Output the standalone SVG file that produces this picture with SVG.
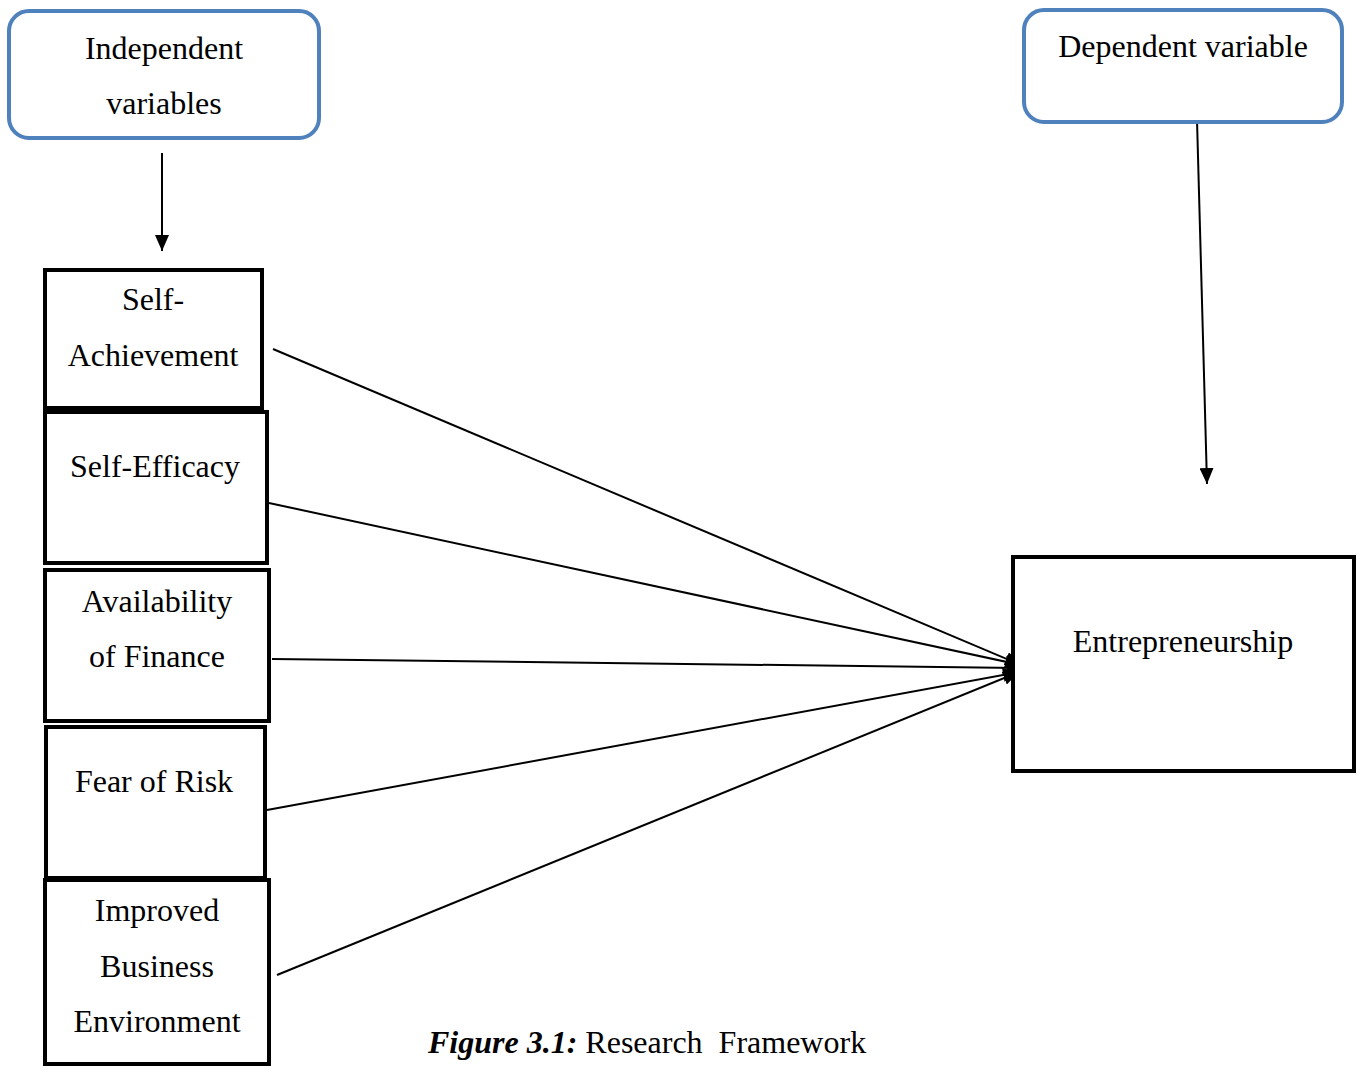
<svg xmlns="http://www.w3.org/2000/svg" width="1360" height="1066" viewBox="0 0 1360 1066">
<style>
text{font-family:"Liberation Serif","Times New Roman",serif;font-size:32px;fill:#000}
.lbl{text-anchor:middle}
.blue{fill:#fff;stroke:#4F81BD;stroke-width:4}
.box{fill:#fff;stroke:#000;stroke-width:4}
.ln{stroke:#000;stroke-width:2;fill:none;marker-end:url(#ah)}
</style>
<defs>
<marker id="ah" markerUnits="userSpaceOnUse" markerWidth="18" markerHeight="14" refX="16" refY="7" orient="auto">
<path d="M0,0 L16,7 L0,14 Z" fill="#000"/>
</marker>
</defs>
<rect width="1360" height="1066" fill="#fff"/>
<g id="connectors">
<line class="ln" x1="162" y1="153" x2="162" y2="251"/>
<line class="ln" x1="1197" y1="120" x2="1207" y2="484"/>
<line class="ln" x1="273" y1="349" x2="1021" y2="665"/>
<line class="ln" x1="269" y1="503" x2="1021" y2="665"/>
<line class="ln" x1="272" y1="659" x2="1023" y2="668"/>
<line class="ln" x1="267" y1="810" x2="1019" y2="672"/>
<line class="ln" x1="277" y1="975" x2="1019" y2="672"/>
</g>
<g id="independent">
<rect class="blue" x="9" y="11" width="310" height="127" rx="20"/>
<text class="lbl" x="164" y="59">Independent</text>
<text class="lbl" x="164" y="114">variables</text>
</g>
<g id="dependent">
<rect class="blue" x="1024" y="10" width="318" height="112" rx="20"/>
<text class="lbl" x="1183" y="57">Dependent variable</text>
</g>
<g id="self-achievement">
<rect class="box" x="45" y="270" width="217" height="138"/>
<text class="lbl" x="153" y="310">Self-</text>
<text class="lbl" x="153" y="366">Achievement</text>
</g>
<g id="self-efficacy">
<rect class="box" x="45" y="412" width="222" height="151"/>
<text class="lbl" x="155" y="477">Self-Efficacy</text>
</g>
<g id="availability-of-finance">
<rect class="box" x="45" y="570" width="224" height="151"/>
<text class="lbl" x="157" y="612">Availability</text>
<text class="lbl" x="157" y="667">of Finance</text>
</g>
<g id="fear-of-risk">
<rect class="box" x="46" y="727" width="219" height="151"/>
<text class="lbl" x="154" y="792">Fear of Risk</text>
</g>
<g id="improved-business-environment">
<rect class="box" x="45" y="880" width="224" height="184"/>
<text class="lbl" x="157" y="921">Improved</text>
<text class="lbl" x="157" y="977">Business</text>
<text class="lbl" x="157" y="1032">Environment</text>
</g>
<g id="entrepreneurship">
<rect class="box" x="1013" y="557" width="341" height="214"/>
<text class="lbl" x="1183" y="652">Entrepreneurship</text>
</g>
<text x="428" y="1053" xml:space="preserve"><tspan font-weight="bold" font-style="italic">Figure 3.1:</tspan> Research  Framework</text>
</svg>
